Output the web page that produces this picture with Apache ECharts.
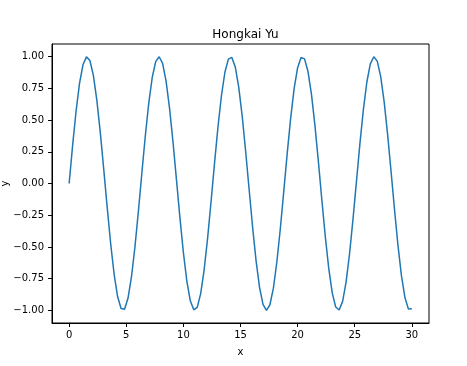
<!DOCTYPE html>
<html>
<head>
<meta charset="utf-8">
<script src="https://cdn.jsdelivr.net/npm/echarts@6/dist/echarts.min.js"></script>
<style>
html,body{margin:0;padding:0;background:#fff;}
#chart{width:467px;height:366px;}
</style>
</head>
<body>
<div id="chart"></div>
<script>
const xValues = [0,0.303,0.606,0.909,1.212,1.515,1.818,2.121,2.424,2.727,3.030,3.333,3.636,3.939,4.242,4.545,4.848,5.152,5.455,5.758,6.061,6.364,6.667,6.970,7.273,7.576,7.879,8.182,8.485,8.788,9.091,9.394,9.697,10.000,10.303,10.606,10.909,11.212,11.515,11.818,12.121,12.424,12.727,13.030,13.333,13.636,13.939,14.242,14.545,14.848,15.152,15.455,15.758,16.061,16.364,16.667,16.970,17.273,17.576,17.879,18.182,18.485,18.788,19.091,19.394,19.697,20.000,20.303,20.606,20.909,21.212,21.515,21.818,22.121,22.424,22.727,23.030,23.333,23.636,23.939,24.242,24.545,24.848,25.152,25.455,25.758,26.061,26.364,26.667,26.970,27.273,27.576,27.879,28.182,28.485,28.788,29.091,29.394,29.697,30.000];
const yValues = [0,0.2984,0.5696,0.7889,0.9364,0.9985,0.9696,0.8523,0.6574,0.4026,0.1111,-0.1906,-0.4748,-0.7158,-0.8916,-0.9861,-0.9908,-0.9051,-0.7370,-0.5017,-0.2207,0.0804,0.3742,0.6338,0.8358,0.9615,0.9997,0.9468,0.8075,0.5947,0.3277,0.0308,-0.2688,-0.5440,-0.7696,-0.9251,-0.9963,-0.9767,-0.8680,-0.6803,-0.4306,-0.1417,0.1602,0.4475,0.6939,0.8772,0.9805,0.9945,0.9178,0.7575,0.5282,0.2507,-0.0496,-0.3454,-0.6097,-0.8184,-0.9526,-1.0000,-0.9562,-0.8253,-0.6192,-0.3567,-0.0617,0.2390,0.5179,0.7496,0.9129,0.9931,0.9828,0.8829,0.7026,0.4582,0.1721,-0.1297,-0.4197,-0.6714,-0.8620,-0.9740,-0.9972,-0.9296,-0.7773,-0.5541,-0.2805,0.0188,0.3163,0.5850,0.8004,0.9428,0.9993,0.9648,0.8423,0.6431,0.3853,0.0924,-0.2090,-0.4913,-0.7288,-0.8999,-0.9890,-0.9880];
const xTicks = [0,5,10,15,20,25,30];
const yTicks = [-1.00,-0.75,-0.50,-0.25,0.00,0.25,0.50,0.75,1.00];
const titleText = 'Hongkai Yu';
const xName = 'x';
const yName = 'y';

const points = xValues.map((x, i) => [x, yValues[i]]);
const font = 'DejaVu Sans';
const chart = echarts.init(document.getElementById('chart'), null, {renderer: 'canvas'});
chart.setOption({
  animation: false,
  backgroundColor: '#ffffff',
  title: {
    text: titleText,
    left: 240.5,
    textAlign: 'center',
    top: 24,
    textStyle: {fontFamily: font, fontSize: 12, fontWeight: 'normal', color: '#000'}
  },
  grid: {
    left: 52, right: 38, top: 44, bottom: 43,
    outerBoundsMode: 'none',
    containLabel: false,
    show: true, borderColor: '#000', borderWidth: 1, backgroundColor: 'transparent'
  },
  xAxis: {
    type: 'value',
    min: -1.5, max: 31.5,
    name: xName,
    nameLocation: 'middle',
    nameGap: 24,
    nameTextStyle: {fontFamily: font, fontSize: 10, color: '#000'},
    axisLine: {show: true, onZero: false, lineStyle: {color: '#000', width: 1}},
    axisTick: {show: true, inside: false, length: 4, customValues: xTicks, lineStyle: {color: '#000', width: 1}},
    axisLabel: {customValues: xTicks, margin: 7, fontFamily: font, fontSize: 10, color: '#000',
      formatter: v => String(v).replace('-', '\u2212')},
    splitLine: {show: false}
  },
  yAxis: {
    type: 'value',
    min: -1.1, max: 1.1,
    name: yName,
    nameLocation: 'middle',
    nameGap: 42,
    nameMoveOverlap: false,
    nameTextStyle: {fontFamily: font, fontSize: 10, color: '#000'},
    axisLine: {show: true, onZero: false, lineStyle: {color: '#000', width: 1}},
    axisTick: {show: true, inside: false, length: 4, customValues: yTicks, lineStyle: {color: '#000', width: 1}},
    axisLabel: {customValues: yTicks, margin: 8, fontFamily: font, fontSize: 10, color: '#000',
      formatter: v => v.toFixed(2).replace('-', '\u2212')},
    splitLine: {show: false}
  },
  series: [{
    type: 'line',
    data: points,
    showSymbol: false,
    symbol: 'none',
    lineStyle: {color: '#1f77b4', width: 1.5},
    itemStyle: {color: '#1f77b4'}
  }]
});
</script>
</body>
</html>
